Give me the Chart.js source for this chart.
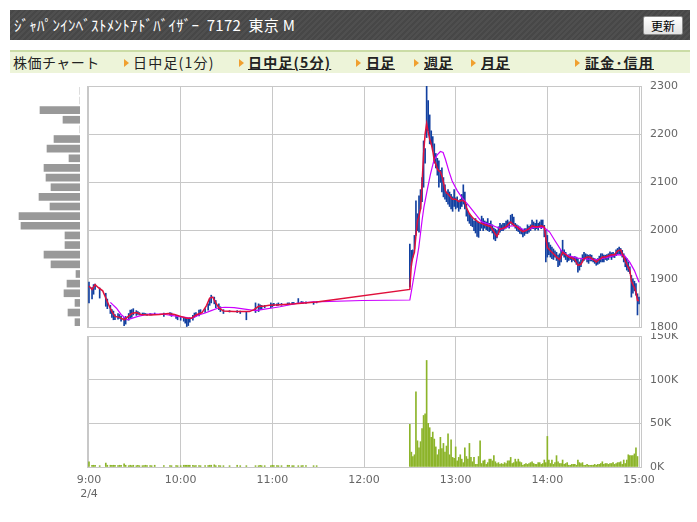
<!DOCTYPE html>
<html lang="ja">
<head>
<meta charset="utf-8">
<script src="https://cdn.jsdelivr.net/npm/chart.js@4.4.1/dist/chart.umd.min.js"></script>
<style>
  body { margin:0; width:697px; height:522px; background:#fff; position:relative; overflow:hidden; font-family:"Noto Sans CJK JP", sans-serif; }
  #header { position:absolute; left:10px; top:10px; width:680px; height:30px; background:repeating-linear-gradient(135deg,#4f4f4f 0 2px,#474747 2px 4px); }
  #title { position:absolute; left:4px; top:4px; color:#fff; font-size:15px; line-height:22px; letter-spacing:0.3px; white-space:pre; }
  #reload { position:absolute; left:633px; top:6px; width:38px; height:17px; border:1px solid #8a8a8a; border-radius:2px; background:linear-gradient(#fff,#e2e2e2); font-size:12px; line-height:17px; text-align:center; color:#000; }
  #tabs { position:absolute; left:10px; top:50px; width:680px; height:21px; background:#edf4d9; border-top:2px solid #cbdca6; }
  .tab { position:absolute; top:0; font-size:14px; line-height:21px; color:#222; white-space:nowrap; letter-spacing:0.5px; }
  .tab.wide { letter-spacing:1.2px; }
  .tab.link { font-weight:bold; text-decoration:underline; }
  .arrow { position:absolute; top:7px; width:0; height:0; border-left:5px solid #f0a030; border-top:4px solid transparent; border-bottom:4px solid transparent; }
  canvas { position:absolute; }
</style>
</head>
<body>
<div id="header">
  <div id="title">ｼﾞｬﾊﾟﾝｲﾝﾍﾞｽﾄﾒﾝﾄｱﾄﾞﾊﾞｲｻﾞｰ  7172  東京 M</div>
  <div id="reload">更新</div>
</div>
<div id="tabs">
  <span class="tab" style="left:3px">株価チャート</span>
  <span class="arrow" style="left:114px"></span><span class="tab wide" style="left:123px">日中足(1分)</span>
  <span class="arrow" style="left:229px"></span><span class="tab wide link" style="left:238px">日中足(5分)</span>
  <span class="arrow" style="left:346px"></span><span class="tab link" style="left:356px">日足</span>
  <span class="arrow" style="left:404px"></span><span class="tab link" style="left:414px">週足</span>
  <span class="arrow" style="left:461px"></span><span class="tab link" style="left:471px">月足</span>
  <span class="arrow" style="left:565px"></span><span class="tab wide link" style="left:575px">証金･信用</span>
</div>
<canvas id="profile" width="87" height="241" style="left:0;top:86px"></canvas>
<canvas id="price" width="697" height="256" style="left:0;top:80px"></canvas>
<canvas id="volume" width="697" height="189" style="left:0;top:333px"></canvas>
<script>
// minutes from 9:00
const tickMinutes = [0, 60, 120, 180, 240, 300, 360];
const timeLabels = ['9:00', '10:00', '11:00', '12:00', '13:00', '14:00', '15:00'];
const dateLabel = '2/4';

// morning 1-minute bars (only minutes with trades)
const amBarMin = [0, 2, 3, 4, 7, 11, 12, 14, 15, 16, 17, 19, 20, 21, 23, 24, 26, 27, 28, 29, 31, 32, 33, 35, 36, 37, 38, 40, 41, 43, 49, 53, 54, 57, 58, 60, 62, 63, 64, 65, 66, 68, 69, 70, 72, 73, 76, 78, 79, 80, 82, 83, 85, 86, 88, 92, 97, 99, 103, 109, 111, 112, 113, 115, 119, 120, 121, 123, 124, 126, 130, 131, 133, 134, 137, 139, 140, 142, 147, 149];
const amLow = [1850, 1858, 1868, 1878, 1860, 1843, 1838, 1828, 1820, 1815, 1815, 1816, 1818, 1812, 1803, 1806, 1814, 1818, 1820, 1825, 1824, 1826, 1825, 1824, 1826, 1825, 1824, 1825, 1825, 1826, 1822, 1825, 1822, 1818, 1815, 1814, 1812, 1808, 1801, 1803, 1810, 1814, 1820, 1822, 1823, 1828, 1830, 1835, 1845, 1850, 1848, 1840, 1836, 1832, 1828, 1831, 1830, 1828, 1815, 1830, 1832, 1836, 1838, 1840, 1840, 1842, 1844, 1844, 1845, 1845, 1846, 1847, 1847, 1848, 1850, 1850, 1849, 1849, 1847, 1850];
const amHigh = [1893, 1882, 1888, 1889, 1881, 1870, 1858, 1845, 1836, 1833, 1826, 1828, 1826, 1822, 1820, 1822, 1828, 1835, 1836, 1838, 1834, 1832, 1830, 1829, 1829, 1828, 1827, 1828, 1827, 1829, 1829, 1830, 1829, 1824, 1822, 1820, 1820, 1818, 1817, 1816, 1819, 1824, 1829, 1830, 1835, 1836, 1838, 1848, 1858, 1866, 1862, 1855, 1848, 1842, 1836, 1834, 1834, 1833, 1832, 1850, 1848, 1846, 1845, 1845, 1850, 1848, 1849, 1848, 1850, 1849, 1850, 1850, 1851, 1851, 1859, 1853, 1852, 1852, 1852, 1853];
const amVolK = [6, 2, 2, 2, 1.5, 4.5, 2, 2, 2, 2, 2, 1.5, 2, 2, 3.5, 2, 1.5, 2, 1.5, 2, 1.5, 2, 1.5, 1.5, 1.5, 2, 1.5, 1.5, 1.5, 2, 1.5, 1.5, 1.5, 1.5, 1.5, 1.5, 2, 2, 2, 2, 2, 2, 1.5, 1.5, 1.5, 1.5, 1.5, 1.5, 2, 2, 2.5, 1.5, 1.5, 1.5, 1.5, 1.5, 2, 1.5, 1.5, 1.5, 1.5, 2, 1.5, 1.5, 1.5, 2, 1.5, 1.5, 1.5, 1.5, 2, 2, 1.5, 1.5, 1.5, 1.5, 1.5, 1.5, 1.5, 1.5];

// afternoon 1-minute bars, every minute from 12:30 (210) to 15:00 (360)
const pmStart = 210;
const pmLow = [1883, 1928, 1945, 1962, 1990, 2000, 1997, 2045, 2060, 2090, 2140, 2193, 2207, 2180, 2179, 2165, 2140, 2130, 2115, 2090,
  2100, 2080, 2070, 2065, 2060, 2055, 2050, 2045, 2040, 2050, 2045, 2048, 2040, 2045, 2050, 2055, 2045, 2030, 2020, 2015,
  2010, 2008, 2000, 1995, 1988, 1986, 2000, 2005, 2000, 2005, 2002, 2000, 1998, 2000, 1995, 1982, 1979, 1985, 1992, 1997,
  2000, 2000, 2003, 2005, 2008, 2005, 2015, 2012, 2010, 2005, 2000, 1998, 1994, 1993, 1987, 1990, 1994, 1994, 1997, 2000,
  2004, 2004, 2001, 2004, 2001, 2008, 2004, 2008, 1987, 1935, 1945, 1950, 1945, 1942, 1940, 1945, 1938, 1925, 1928, 1935,
  1949, 1945, 1940, 1935, 1938, 1940, 1935, 1938, 1935, 1930, 1914, 1918, 1925, 1935, 1938, 1942, 1935, 1932, 1937, 1937,
  1935, 1932, 1928, 1930, 1932, 1935, 1935, 1935, 1940, 1938, 1940, 1945, 1940, 1945, 1944, 1948, 1952, 1952, 1950, 1945,
  1935, 1925, 1918, 1915, 1911, 1862, 1870, 1875, 1866, 1825, 1848];
const pmHigh = [1972, 1959, 1960, 1990, 2062, 2035, 2072, 2085, 2110, 2186, 2170, 2300, 2270, 2240, 2207, 2195, 2180, 2160, 2150, 2145,
  2125, 2130, 2110, 2095, 2080, 2085, 2080, 2075, 2070, 2085, 2068, 2070, 2062, 2065, 2075, 2095, 2080, 2055, 2040, 2035,
  2030, 2025, 2020, 2025, 2020, 2018, 2015, 2030, 2025, 2020, 2018, 2025, 2015, 2020, 2012, 2005, 2003, 2000, 2008, 2015,
  2012, 2015, 2015, 2020, 2022, 2018, 2032, 2034, 2028, 2015, 2012, 2010, 2008, 2005, 2001, 2004, 2004, 2012, 2009, 2012,
  2022, 2018, 2015, 2022, 2015, 2018, 2022, 2022, 2011, 2001, 1990, 1975, 1970, 1966, 1962, 1958, 1955, 1949, 1952, 1959,
  1980, 1960, 1955, 1949, 1950, 1952, 1945, 1945, 1946, 1945, 1942, 1935, 1940, 1950, 1955, 1952, 1950, 1949, 1950, 1949,
  1943, 1942, 1938, 1942, 1947, 1952, 1952, 1949, 1949, 1950, 1952, 1956, 1954, 1955, 1952, 1960, 1963, 1966, 1963, 1959,
  1952, 1945, 1942, 1935, 1925, 1907, 1900, 1895, 1890, 1869, 1862];
const pmVolK = [49, 17, 12, 14, 86, 30, 22, 29, 44, 59, 61, 122, 50, 45, 34, 40, 32, 23, 14, 20,
  34, 21, 27, 17, 24, 38, 14, 31, 11, 10, 23, 7, 11, 14, 9, 5, 22, 12, 9, 27,
  11, 6, 11, 3, 3, 12, 30, 4, 7, 8, 3, 5, 9, 9, 7, 13, 6, 4, 5, 3,
  4, 3, 5, 4, 7, 7, 11, 4, 5, 9, 6, 9, 6, 5, 2, 3, 4, 3, 4, 5,
  6, 4, 3, 3, 5, 5, 3, 4, 8, 5, 35, 8, 4, 8, 3, 5, 13, 6, 4, 4,
  8, 3, 4, 5, 2, 2, 3, 3, 3, 2, 8, 5, 4, 5, 2, 2, 3, 2, 2, 2,
  2, 3, 2, 3, 3, 4, 6, 3, 4, 4, 3, 4, 4, 5, 3, 4, 5, 5, 6, 3,
  8, 4, 8, 14, 13, 13, 13, 15, 22, 12];

// short moving average (red)
const fastMaMin = [0, 2, 4, 6, 9, 11, 13, 15, 17, 20, 23, 25, 28, 31, 34, 40, 46, 52, 56, 60, 64, 67, 70, 74, 77, 79, 81, 83, 85, 88, 95, 105, 108, 111, 114, 118, 125, 135, 149,
  210, 211, 212, 213, 214, 215, 216, 217, 218, 219, 220, 221, 222, 223, 224, 225, 226, 227, 228, 229, 230, 231, 232, 233, 234, 235, 236, 237, 238, 240, 242, 244, 246, 247, 249, 251, 253, 255, 257, 259, 261, 263, 265, 267, 268,
  269, 271, 273, 275, 276, 278, 280, 282, 284, 286, 288, 290, 292, 294, 296, 298, 299, 300, 302, 304, 306, 308, 310, 312, 314, 316, 318, 320, 322, 324, 326, 328, 330, 332, 334, 336, 338, 340, 342, 344, 346, 348, 350, 352, 354, 355, 356, 357, 358, 359, 360];
const fastMaVal = [1885, 1878, 1888, 1882, 1875, 1860, 1845, 1832, 1822, 1820, 1815, 1820, 1828, 1830, 1826, 1825, 1826, 1828, 1826, 1822, 1818, 1818, 1825, 1830, 1845, 1860, 1862, 1850, 1840, 1833, 1832, 1832, 1836, 1843, 1843, 1845, 1846, 1848, 1852,
  1878, 1930, 1945, 1955, 1990, 2020, 2030, 2045, 2097, 2160, 2200, 2222, 2205, 2190, 2180, 2166, 2145, 2138, 2128, 2124, 2122, 2113, 2100, 2085, 2078, 2076, 2072, 2068, 2065, 2065, 2060, 2063, 2060, 2048, 2035, 2027, 2022, 2017, 2015, 2012, 2010, 2008, 1998, 1988, 1995,
  2003, 2005, 2008, 2015, 2018, 2012, 2008, 2002, 1998, 2000, 2004, 2010, 2008, 2008, 2010, 2008, 1985, 1965, 1958, 1952, 1945, 1940, 1955, 1950, 1945, 1943, 1940, 1928, 1930, 1942, 1945, 1945, 1940, 1935, 1940, 1945, 1945, 1948, 1950, 1950, 1958, 1960, 1945, 1930, 1918, 1895, 1888, 1882, 1872, 1855, 1855];

// long moving average (magenta)
const slowMaMin = [14, 18, 21, 25, 28, 32, 39, 48, 58, 63, 67, 72, 76, 80, 85, 89, 95, 102, 109, 115, 121, 125, 136, 147, 179, 210,
  211.5, 213.7, 215.9, 218, 219.2, 221.3, 223.5, 225.7, 227.9, 230, 231.8, 233.3, 235.5, 237.7, 241, 244, 248.6, 253, 257, 263, 270, 276.5, 281, 285, 292, 298,
  301.5, 305, 309, 313.5, 320, 326.5, 333, 340, 346, 350.5, 354, 357, 360];
const slowMaVal = [1851, 1839, 1826, 1815, 1818, 1822, 1827, 1827, 1822, 1820, 1818, 1825, 1829, 1834, 1840, 1841, 1840, 1837, 1834, 1837, 1840, 1842, 1849, 1852, 1855, 1856,
  1883, 1924, 1966, 2021, 2048, 2083, 2117, 2145, 2157, 2164, 2162, 2148, 2124, 2103, 2083, 2069, 2052, 2034, 2018, 2012, 2003, 2010, 2008, 2000, 2007, 2006,
  1997, 1979, 1959, 1948, 1943, 1941, 1940, 1945, 1950, 1948, 1934, 1917, 1893];

// volume by price (20-yen bins, left panel)
const profileBins = [1800, 1820, 1840, 1860, 1880, 1900, 1920, 1940, 1960, 1980, 2000, 2020, 2040, 2060, 2080, 2100, 2120, 2140, 2160, 2180, 2200, 2220, 2240, 2260, 2280];
const profileVol = [5, 12, 5, 16, 13, 4, 29, 36, 15, 15, 59, 61, 30, 41, 29, 34, 36, 11, 33, 26, 0, 17, 40, 0, 0];

const gridColor = '#c8c8c8';
const labelColor = '#666';
const axisFont = { family: 'DejaVu Sans', size: 11 };

const frame = {
    id: 'frame',
    beforeDatasetsDraw(chart) {
        const a = chart.chartArea;
        const ctx = chart.ctx;
        ctx.save();
        ctx.strokeStyle = gridColor;
        ctx.lineWidth = 1;
        ctx.strokeRect(Math.round(a.left) + 0.5, Math.round(a.top) + 0.5, Math.round(a.right - a.left), Math.round(a.bottom - a.top));
        ctx.restore();
    }
};

// keep the axes from adding their own label padding to the layout
function noPad(s) {
    s.paddingTop = 0;
    s.paddingBottom = 0;
    s.paddingLeft = 0;
    s.paddingRight = 0;
}

const setTimeTicks = (scale) => { scale.ticks = tickMinutes.map(v => ({ value: v })); };

function timeAxis(showLabels) {
    return {
        type: 'linear',
        min: -1.3,
        max: 361.3,
        offset: false,
        afterBuildTicks: setTimeTicks,
        afterFit: (s) => { noPad(s); s.height = showLabels ? 55 : 0; },
        grid: { color: gridColor, drawTicks: false, offset: false },
        border: { display: false },
        ticks: {
            display: showLabels,
            autoSkip: false,
            maxRotation: 0,
            padding: 7,
            color: labelColor,
            font: axisFont,
            callback: (v) => {
                const i = tickMinutes.indexOf(v);
                if (i < 0) return '';
                return i === 0 ? [timeLabels[i], dateLabel] : timeLabels[i];
            }
        }
    };
}

function valueAxis(min, max, step, fmt) {
    return {
        position: 'right',
        min: min,
        max: max,
        afterFit: (s) => { noPad(s); s.width = 56; },
        grid: { color: gridColor, drawTicks: false },
        border: { display: false },
        ticks: { stepSize: step, padding: 9, color: labelColor, font: axisFont, callback: fmt }
    };
}

const candleData = [];
amBarMin.forEach((m, i) => candleData.push({ x: m, y: [amLow[i], amHigh[i]] }));
pmLow.forEach((lo, i) => candleData.push({ x: pmStart + i, y: [lo, pmHigh[i]] }));

const volumeData = [];
amBarMin.forEach((m, i) => volumeData.push({ x: m, y: amVolK[i] }));
pmVolK.forEach((v, i) => volumeData.push({ x: pmStart + i, y: v }));

new Chart(document.getElementById('price'), {
    type: 'bar',
    data: {
        datasets: [
            {
                type: 'line',
                data: fastMaMin.map((m, i) => ({ x: m, y: fastMaVal[i] })),
                borderColor: '#e0103c',
                borderWidth: 1.5,
                pointRadius: 0,
                order: 1
            },
            {
                type: 'line',
                data: slowMaMin.map((m, i) => ({ x: m, y: slowMaVal[i] })),
                borderColor: '#cc00ff',
                borderWidth: 1.2,
                pointRadius: 0,
                order: 2
            },
            {
                data: candleData,
                backgroundColor: '#1240a0',
                barThickness: 1,
                order: 3
            }
        ]
    },
    options: {
        responsive: false,
        animation: false,
        layout: { autoPadding: false, padding: { left: 87, top: 6, right: 0, bottom: 9 } },
        plugins: { legend: { display: false }, tooltip: { enabled: false } },
        scales: {
            x: timeAxis(false),
            y: valueAxis(1800, 2300, 100, (v) => String(v))
        }
    },
    plugins: [frame]
});

new Chart(document.getElementById('volume'), {
    type: 'bar',
    data: {
        datasets: [{
            data: volumeData,
            backgroundColor: '#8cb42a',
            barThickness: 1
        }]
    },
    options: {
        responsive: false,
        animation: false,
        layout: { autoPadding: false, padding: { left: 87, top: 3, right: 0, bottom: 0 } },
        plugins: { legend: { display: false }, tooltip: { enabled: false } },
        scales: {
            x: timeAxis(true),
            y: valueAxis(0, 150, 50, (v) => v + 'K')
        }
    },
    plugins: [frame]
});

new Chart(document.getElementById('profile'), {
    type: 'bar',
    data: {
        labels: profileBins,
        datasets: [{
            data: profileVol,
            backgroundColor: '#999999',
            barThickness: 7
        }]
    },
    options: {
        indexAxis: 'y',
        responsive: false,
        animation: false,
        layout: { autoPadding: false, padding: { left: 0, top: 0, right: 7, bottom: 0 } },
        plugins: { legend: { display: false }, tooltip: { enabled: false } },
        scales: {
            x: { display: false, reverse: true, min: 0, max: 80 },
            y: { display: false, reverse: true }
        }
    }
});
</script>
</body>
</html>
